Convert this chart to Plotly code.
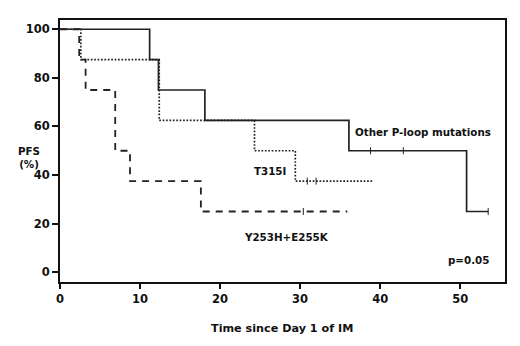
import plotly.graph_objects as go

# Other P-loop mutations (solid)
other_t = [0, 11.2, 12.3, 18.1, 36.1, 50.8, 53.5]
other_s = [100, 87.5, 75, 62.5, 50, 25, 25]
other_cens_t = [38.8, 42.9, 53.5]
other_cens_s = [50, 50, 25]

# T315I (dotted)
t315_t = [0, 2.6, 12.4, 24.3, 29.4, 39.0]
t315_s = [100, 87.5, 62.5, 50, 37.5, 37.5]
t315_cens_t = [30.9, 32.0]
t315_cens_s = [37.5, 37.5]

# Y253H+E255K (dashed)
y253_t = [0, 2.4, 3.2, 6.9, 8.75, 17.6, 35.9]
y253_s = [100, 87.5, 75, 50, 37.5, 25, 25]
y253_cens_t = [30.4]
y253_cens_s = [25]

x_ticks = [0, 10, 20, 30, 40, 50]
y_ticks = [0, 20, 40, 60, 80, 100]

TICKFONT = dict(family="DejaVu Sans", size=11.5, color="#111", weight="bold")
LABFONT = dict(family="DejaVu Sans", size=10.3, color="#111", weight="bold")
TITLEFONT = dict(family="DejaVu Sans", size=11.2, color="#111", weight="bold")
LC = "#222"

fig = go.Figure()
styles = [(other_t, other_s, "solid", 1.7), (t315_t, t315_s, "1.7px,1.7px", 1.7), (y253_t, y253_s, "7px,6px", 1.8)]
for t, s, dash, w in styles:
    fig.add_trace(go.Scatter(x=t, y=s, mode="lines", line=dict(shape="hv", color=LC, width=w, dash=dash),
                             showlegend=False, hoverinfo="skip"))
for t, s in [(other_cens_t, other_cens_s), (t315_cens_t, t315_cens_s), (y253_cens_t, y253_cens_s)]:
    fig.add_trace(go.Scatter(x=t, y=s, mode="markers",
                             marker=dict(symbol="line-ns", size=5, line=dict(color=LC, width=1)),
                             showlegend=False, hoverinfo="skip"))

annots = [
    ("Other P-loop mutations", 45.4, 57.9),
    ("T315I", 26.2, 41.7),
    ("Y253H+E255K", 28.3, 14.5),
    ("p=0.05", 51.1, 5),
]
for txt, x, y in annots:
    fig.add_annotation(x=x, y=y, text=txt, showarrow=False, font=LABFONT)

fig.add_annotation(xref="paper", yref="paper", x=-0.099, y=0.477, text="PFS<br>(%)", showarrow=False,
                   font=LABFONT, align="center")
fig.add_annotation(xref="paper", yref="paper", x=0.498, y=-0.176, text="Time since Day 1 of IM",
                   showarrow=False, font=TITLEFONT, yanchor="middle")

fig.update_layout(
    width=512, height=338,
    margin=dict(l=52, r=15, t=12, b=64, autoexpand=False),
    plot_bgcolor="white", paper_bgcolor="white",
    xaxis=dict(range=[0, 55.6], tickvals=x_ticks, showgrid=False, zeroline=False,
               showline=True, linecolor="#111", linewidth=2, mirror=True, automargin=False,
               ticks="outside", ticklen=5, tickcolor="#111", tickwidth=2,
               tickfont=TICKFONT),
    yaxis=dict(range=[-4, 103.8], tickvals=y_ticks, showgrid=False, zeroline=False,
               showline=True, linecolor="#111", linewidth=2, mirror=True, automargin=False,
               ticks="outside", ticklen=6, tickcolor="#111", tickwidth=1.5,
               tickfont=TICKFONT),
)

fig.write_html("out.html")
